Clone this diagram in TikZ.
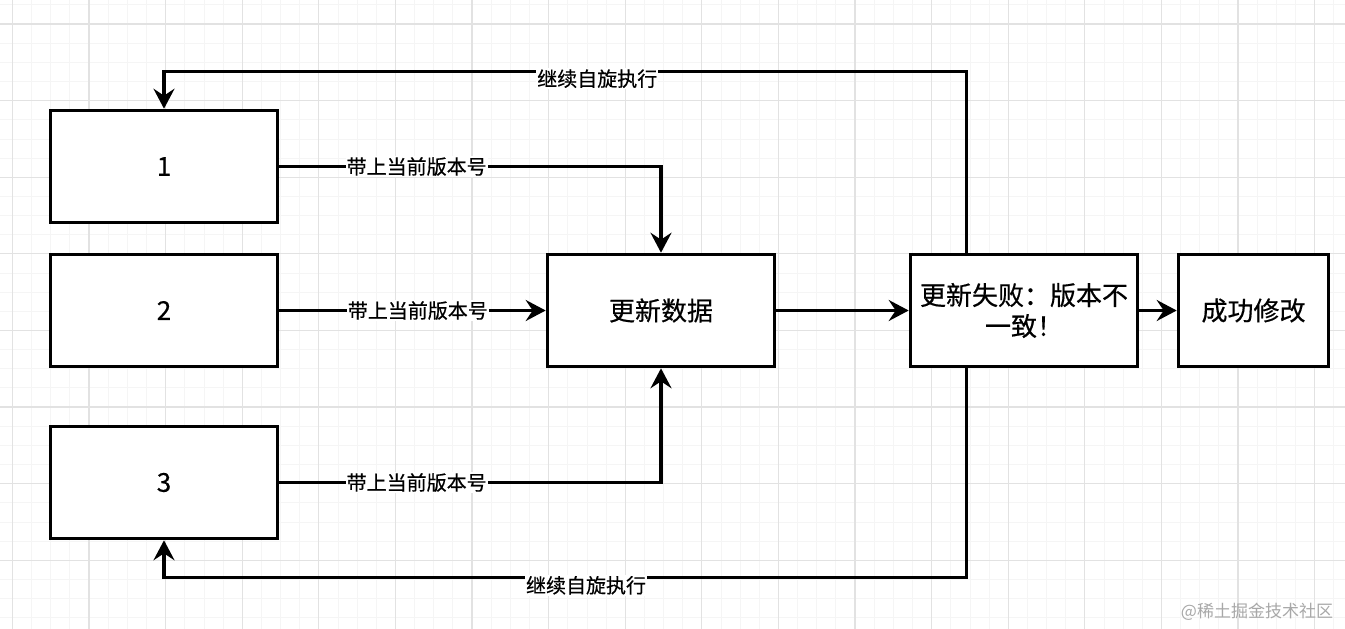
\documentclass[tikz,border=0pt]{standalone}
\usepackage{fontspec}
\newfontfamily\cjk[FakeBold=0.5]{Noto Sans CJK SC}
\newfontfamily\cjkmark{Noto Sans CJK SC}
\usetikzlibrary{arrows.meta, calc}
\definecolor{gridmaj}{HTML}{E2E2E2}
\definecolor{gridmin}{HTML}{F5F5F5}
\definecolor{markgray}{HTML}{A8A8A8}
\tikzset{
  blk/.style   = {rectangle, draw=black, fill=white, line width=3.6pt, align=center,
                  font=\cjk\fontsize{26}{31}\selectfont, minimum width=227pt,
                  minimum height=112pt, inner sep=3pt},
  lbl/.style   = {fill=white, font=\cjk\fontsize{20}{24}\selectfont, inner sep=1pt},
  flow/.style  = {-{Stealth[length=20pt, width=21pt, inset=7pt]}, line width=3.4pt},
  majline/.style = {draw=gridmaj, line width=1.2pt},
  minline/.style = {draw=gridmin, line width=0.8pt},
}
\begin{document}
\begin{tikzpicture}[x=1pt, y=-1pt]
        \useasboundingbox[fill=white] (0,0) rectangle (1345,629);
        % grid
        \foreach \i in {-1,...,70}{\draw[minline] ({12.4+19.15*\i},0) -- ({12.4+19.15*\i},629);}
        \foreach \i in {-1,...,33}{\draw[minline] (0,{24+19.15*\i}) -- (1345,{24+19.15*\i});}
        \foreach \i in {0,...,17}{\draw[majline] ({12.4+76.6*\i},0) -- ({12.4+76.6*\i},629);}
        \foreach \i in {0,...,8}{\draw[majline] (0,{24+76.6*\i}) -- (1345,{24+76.6*\i});}
        % boxes
        \node[blk] (one)   at (164,166.5) {1};
        \node[blk] (two)   at (164,310.5) {2};
        \node[blk] (three) at (164,482.5) {3};
        \node[blk] (upd)   at (661,310.5) {更新数据};
        \node[blk] (fail)  at (1024,310.5) {更新失败：版本不\\一致！};
        \node[blk, minimum width=150pt] (done) at (1253.5,310.5) {成功修改};
        \coordinate (failtop) at ($(fail.north west)!0.25!(fail.north east)$);
        \coordinate (failbot) at ($(fail.south west)!0.25!(fail.south east)$);
        % edges
        \draw[flow] (one.east) -| (upd.north) node[lbl, pos=0.18] {带上当前版本号};
        \draw[flow] (two.east) -- (upd.west) node[lbl, pos=0.52] {带上当前版本号};
        \draw[flow] (three.east) -| (upd.south) node[lbl, pos=0.18] {带上当前版本号};
        \foreach \x/\y in {upd/fail, fail/done}{\draw[flow] (\x) -- (\y);}
        \draw[flow] (failtop) -- ++(0,-181) -| (one.north) node[lbl, pos=0.23, yshift=-7pt] {继续自旋执行};
        \draw[flow] (failbot) -- ++(0,209) -| (three.south) node[lbl, pos=0.237, yshift=-8pt] {继续自旋执行};
        \node[font=\cjkmark\fontsize{17}{20}\selectfont, text=markgray] (mark) at (1257,612) {@稀土掘金技术社区};
    \end{tikzpicture}
\end{document}
